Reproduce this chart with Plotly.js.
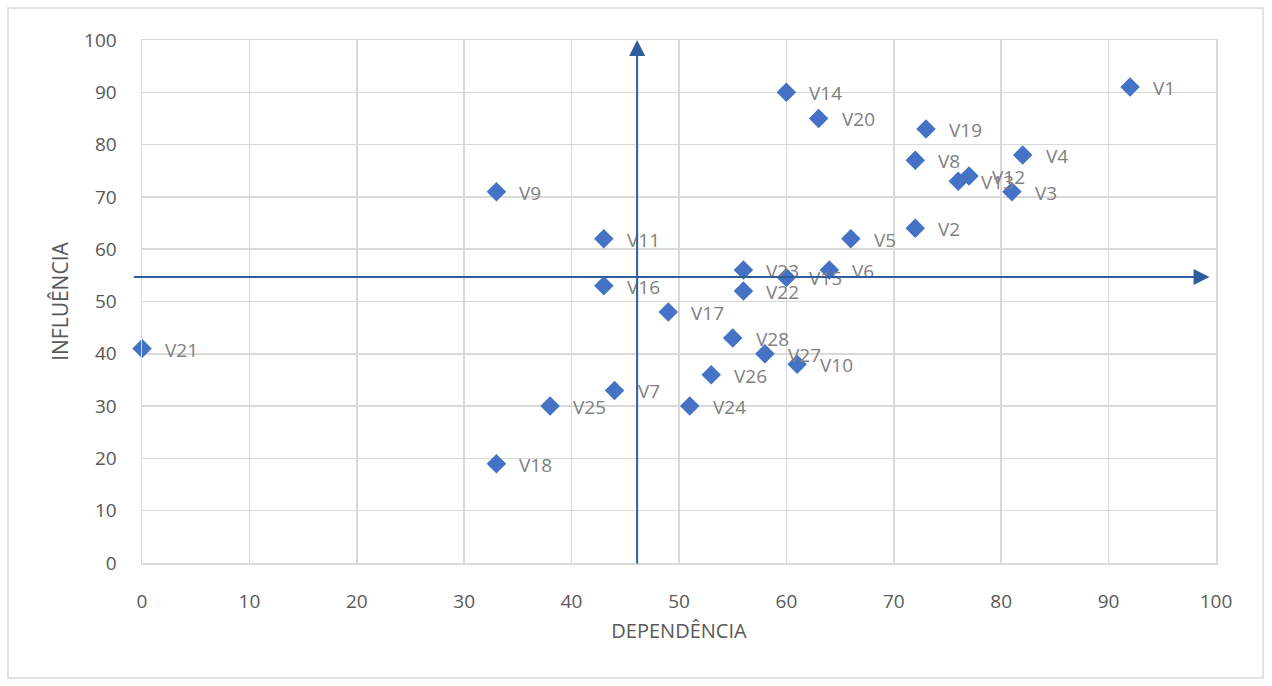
<!DOCTYPE html>
<html>
<head>
<meta charset="utf-8">
<script src="https://cdn.plot.ly/plotly-3.0.1.min.js"></script>
<style>html,body{margin:0;padding:0;background:#fff;}#chart{width:1272px;height:686px;}</style>
</head>
<body>
<div id="chart"></div>
<script>
const labels = ["V1","V2","V3","V4","V5","V6","V7","V8","V9","V10","V11","V12","V13","V14","V15","V16","V17","V18","V19","V20","V21","V22","V23","V24","V25","V26","V27","V28"];
const dependencia = [92,72,81,82,66,64,44,72,33,61,43,77,76,60,60,43,49,33,73,63,0,56,56,51,38,53,58,55];
const influencia  = [91,64,71,78,62,56,33,77,71,38,62,74,73,90,54.6,53,48,19,83,85,41,52,56,30,30,36,40,43];
const xTicks = [0,10,20,30,40,50,60,70,80,90,100];
const yTicks = [0,10,20,30,40,50,60,70,80,90,100];
const dividerX = 46.1;
const dividerY = 54.7;

const blue = '#4472C4';
const arrowBlue = '#2F5E9E';
const gridC = '#D9D9D9';
const fontFam = '"Open Sans", "Noto Sans", sans-serif';

const trace = {
  x: dependencia, y: influencia, mode: 'markers', type: 'scatter',
  marker: {symbol: 'diamond', size: 15, color: blue},
  hoverinfo: 'skip', cliponaxis: false
};

const annotations = labels.map((t, i) => ({
  x: dependencia[i], y: influencia[i], xref: 'x', yref: 'y',
  text: t, showarrow: false, xanchor: 'left', yanchor: 'middle', xshift: 21, yshift: -1,
  font: {family: fontFam, size: 19, color: '#808080'}
}));

annotations.push({
  x: dividerX, y: 100, xref: 'x', yref: 'y',
  ax: dividerX, ay: -0.4, axref: 'x', ayref: 'y',
  showarrow: true, arrowhead: 2, arrowsize: 1.6, arrowwidth: 2, arrowcolor: arrowBlue, text: ''
});
annotations.push({
  x: 99.4, y: dividerY, xref: 'x', yref: 'y',
  ax: -0.9, ay: dividerY, axref: 'x', ayref: 'y',
  showarrow: true, arrowhead: 2, arrowsize: 1.6, arrowwidth: 2, arrowcolor: arrowBlue, text: ''
});

const layout = {
  width: 1272, height: 686,
  margin: {l: 142, r: 56, t: 40, b: 123},
  paper_bgcolor: '#fff', plot_bgcolor: '#fff',
  showlegend: false,
  font: {family: fontFam, color: '#595959'},
  xaxis: {
    range: [0, 100], tickvals: xTicks, ticktext: xTicks.map(String),
    showgrid: true, gridcolor: gridC, gridwidth: 1.5,
    zeroline: false, showline: true, linecolor: gridC, linewidth: 1.5, mirror: true,
    ticks: 'outside', ticklen: 21, tickcolor: 'rgba(0,0,0,0)',
    tickfont: {size: 19, color: '#595959'},
    title: {text: 'DEPENDÊNCIA', font: {size: 20, color: '#595959'}, standoff: 10}
  },
  yaxis: {
    range: [0, 100], tickvals: yTicks, ticktext: yTicks.map(String),
    showgrid: true, gridcolor: gridC, gridwidth: 1.5,
    zeroline: false, showline: true, linecolor: gridC, linewidth: 1.5, mirror: true,
    ticks: 'outside', ticklen: 20, tickcolor: 'rgba(0,0,0,0)',
    tickfont: {size: 19, color: '#595959'},
    title: {text: 'INFLUÊNCIA', font: {size: 21, color: '#595959'}, standoff: 10}
  },
  shapes: [{
    type: 'rect', xref: 'paper', yref: 'paper',
    x0: -0.1248, x1: 1.0438, y0: -0.2199, y1: 1.0612,
    line: {color: gridC, width: 1.5}, fillcolor: 'rgba(0,0,0,0)', layer: 'below'
  }],
  annotations: annotations
};

Plotly.newPlot('chart', [trace], layout, {displayModeBar: false, staticPlot: true});
</script>
</body>
</html>
